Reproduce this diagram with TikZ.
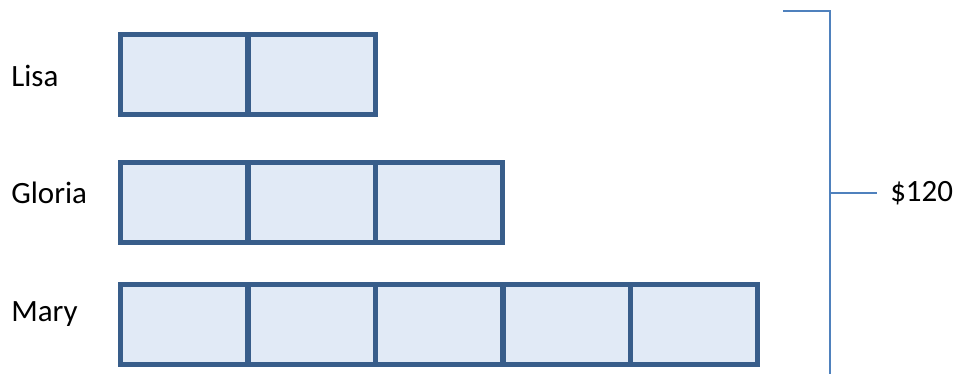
\documentclass[tikz,border=0pt]{standalone}
\usepackage{fontspec}
\setmainfont{Carlito}
\definecolor{barline}{RGB}{56,93,138}
\definecolor{barfill}{RGB}{225,234,246}
\definecolor{braceline}{RGB}{79,129,189}
\tikzset{
  cell/.style={draw=barline, fill=barfill, line width=3.75pt, minimum width=95.6pt, minimum height=60pt, inner sep=0pt},
  name label/.style={anchor=base west, inner sep=0pt, font=\fontsize{23.25}{28}\selectfont}
}
\begin{document}
\begin{tikzpicture}[x=0.75pt,y=0.75pt,yscale=-1,xscale=1]
\useasboundingbox (0,0) rectangle (958,374);

% Lisa
\node [cell] (l1) at (184.25,75) {};
\node [cell] (l2) at (311.75,75) {};
% Gloria
\node [cell] (g1) at (184.25,203) {};
\node [cell] (g2) at (311.75,203) {};
\node [cell] (g3) at (439.25,203) {};
% Mary
\node [cell] (m1) at (184.25,325) {};
\node [cell] (m2) at (311.75,325) {};
\node [cell] (m3) at (439.25,325) {};
\node [cell] (m4) at (566.75,325) {};
\node [cell] (m5) at (694.25,325) {};

% Text Node
\node [name label] (lisa) at (11,87) {Lisa};
% Text Node
\node [name label] (gloria) at (11,204) {Gloria};
% Text Node
\node [name label] (mary) at (11,322) {Mary};

% bracket
\coordinate (top) at (783,11);
\coordinate (corner) at (830,11);
\coordinate (bottom) at (830,376);
\coordinate (mid) at (830,193);
\coordinate (tick) at (877,193);
\draw [color=braceline, line width=1.2pt] (top) -- (corner) -- (bottom);
\draw [color=braceline, line width=1.2pt] (mid) -- (tick);

% Text Node
\node [name label, anchor=west] (total) at (890,193) {\$120};

\end{tikzpicture}
\end{document}
